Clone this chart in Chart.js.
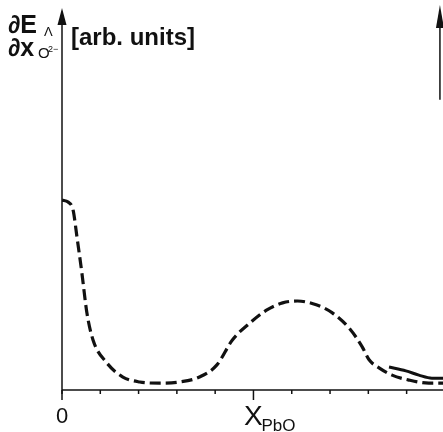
<!DOCTYPE html>
<html>
<head>
<meta charset="utf-8">
<script src="https://cdn.jsdelivr.net/npm/chart.js@4"></script>
<style>
  html, body { margin: 0; padding: 0; background: #fff; }
  #wrap { width: 443px; height: 432px; }
</style>
</head>
<body>
<div id="wrap"><canvas id="chart" width="443" height="432"></canvas></div>
<script>
// dashed curve (x = mole fraction PbO, y = arb. units)
const dashX = [0, 0.016, 0.029, 0.039, 0.052, 0.065, 0.081, 0.117, 0.159, 0.203, 0.255, 0.307, 0.359, 0.404, 0.445, 0.490, 0.534, 0.576, 0.615, 0.664, 0.706, 0.750, 0.784, 0.802, 0.828, 0.862, 0.906, 0.958, 0.995];
const dashY = [49.7, 49.2, 47.1, 40.1, 30.6, 20.2, 13.1, 7.1, 3.4, 2.1, 1.8, 2.1, 3.4, 6.5, 13.1, 17.5, 20.9, 22.8, 23.3, 22.3, 20.2, 16.2, 11.3, 7.9, 5.8, 3.9, 2.6, 1.8, 1.8];

// short solid branch at the right
const solidX = [0.854, 0.898, 0.932, 0.966, 0.995];
const solidY = [6.0, 5.0, 3.9, 3.1, 3.1];

const xTicks = [0, 0.1, 0.2, 0.3, 0.4, 0.5, 0.6, 0.7, 0.8, 0.9];
const majorTick = 0.5;

const toPoints = (xs, ys) => xs.map((x, i) => ({ x: x, y: ys[i] }));

const ink = '#111';

const axesPlugin = {
    id: 'axesPlugin',
    afterDraw(chart) {
        const ctx = chart.ctx;
        const xs = chart.scales.x;
        const ys = chart.scales.y;
        const x0 = xs.getPixelForValue(0);
        const y0 = ys.getPixelForValue(0);
        const yTop = ys.getPixelForValue(100);
        const xEnd = xs.getPixelForValue(xs.max);

        ctx.save();
        ctx.strokeStyle = ink;
        ctx.fillStyle = ink;
        ctx.lineWidth = 1.5;

        // y axis with arrow
        ctx.beginPath();
        ctx.moveTo(x0, y0 + 10);
        ctx.lineTo(x0, yTop + 14);
        ctx.stroke();
        ctx.beginPath();
        ctx.moveTo(x0, yTop);
        ctx.lineTo(x0 - 4.5, yTop + 17);
        ctx.lineTo(x0 + 4.5, yTop + 17);
        ctx.closePath();
        ctx.fill();

        // x axis
        ctx.beginPath();
        ctx.moveTo(x0, y0);
        ctx.lineTo(xEnd, y0);
        ctx.stroke();

        // ticks
        xTicks.forEach(t => {
            const px = xs.getPixelForValue(t);
            ctx.beginPath();
            ctx.moveTo(px, y0);
            ctx.lineTo(px, y0 + (t === majorTick ? 10 : 4));
            ctx.stroke();
        });

        // right arrow
        const xr = xs.getPixelForValue(0.987);
        const yr = ys.getPixelForValue(76);
        ctx.beginPath();
        ctx.moveTo(xr, yr);
        ctx.lineTo(xr, yTop + 10);
        ctx.stroke();
        ctx.beginPath();
        ctx.moveTo(xr, yTop - 3);
        ctx.lineTo(xr - 4, yTop + 20);
        ctx.lineTo(xr + 4, yTop + 20);
        ctx.closePath();
        ctx.fill();

        // labels
        ctx.textBaseline = 'alphabetic';
        ctx.textAlign = 'left';
        ctx.font = 'bold 25px "Liberation Sans", Arial, sans-serif';
        ctx.fillText('\u2202E', 8, 33);
        ctx.fillText('\u2202x', 8, 56);
        ctx.font = '13px "Liberation Sans", Arial, sans-serif';
        ctx.fillText('\u039b', 44, 36);
        ctx.font = '15px "Liberation Sans Narrow", "Liberation Sans", sans-serif';
        ctx.fillText('O', 38, 58);
        ctx.font = '9px "Liberation Sans", Arial, sans-serif';
        ctx.fillText('2\u2212', 48, 52);

        ctx.font = 'bold 24px "Liberation Sans", Arial, sans-serif';
        ctx.fillText('[arb. units]', 71, 45);

        ctx.textAlign = 'center';
        ctx.font = '22px "Liberation Sans Narrow", "Liberation Sans", sans-serif';
        ctx.fillText('0', x0, 423);
        const xm = xs.getPixelForValue(majorTick);
        ctx.font = '28px "Liberation Sans Narrow", "Liberation Sans", sans-serif';
        ctx.fillText('X', xm, 425);
        ctx.textAlign = 'left';
        ctx.font = '17px "Liberation Sans Narrow", "Liberation Sans", sans-serif';
        ctx.fillText('PbO', xm + 8, 431);
        ctx.restore();
    }
};

new Chart(document.getElementById('chart').getContext('2d'), {
    type: 'scatter',
    data: {
        datasets: [
            {
                data: toPoints(dashX, dashY),
                showLine: true,
                borderColor: ink,
                borderWidth: 3.2,
                borderDash: [11, 5],
                pointRadius: 0,
                cubicInterpolationMode: 'monotone',
                fill: false
            },
            {
                data: toPoints(solidX, solidY),
                showLine: true,
                borderColor: ink,
                borderWidth: 3,
                pointRadius: 0,
                cubicInterpolationMode: 'monotone',
                fill: false
            }
        ]
    },
    options: {
        responsive: false,
        animation: false,
        layout: { padding: { left: 62, right: 0, top: 8, bottom: 42 } },
        plugins: { legend: { display: false }, tooltip: { enabled: false } },
        scales: {
            x: { type: 'linear', min: 0, max: 0.995, display: false },
            y: { type: 'linear', min: 0, max: 100, display: false }
        }
    },
    plugins: [axesPlugin]
});
</script>
</body>
</html>
